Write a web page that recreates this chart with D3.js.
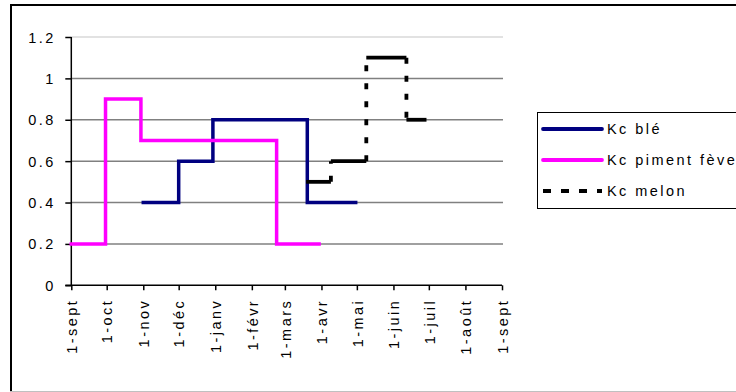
<!DOCTYPE html>
<html>
<head>
<meta charset="utf-8">
<script src="https://cdn.jsdelivr.net/npm/d3@7"></script>
<style>
  html, body { margin: 0; padding: 0; background: #fff; }
  svg text { font-family: "Liberation Sans", Arial, sans-serif; fill: #000; }
</style>
</head>
<body>
<svg id="chart" width="736" height="392"></svg>
<script>
// ---- data ----
const monthLabels = ["1-sept","1-oct","1-nov","1-déc","1-janv","1-févr","1-mars","1-avr","1-mai","1-juin","1-juil","1-août","1-sept"];
const yTicks = [0, 0.2, 0.4, 0.6, 0.8, 1, 1.2];

const bleDates   = ["2010-11-01","2010-12-01","2010-12-01","2010-12-30","2010-12-30","2011-03-20","2011-03-20","2011-04-30"];
const bleValues  = [0.4, 0.4, 0.6, 0.6, 0.8, 0.8, 0.4, 0.4];

const pimentDates  = ["2010-09-01","2010-09-30","2010-09-30","2010-10-30","2010-10-30","2011-02-22","2011-02-22","2011-03-30"];
const pimentValues = [0.2, 0.2, 0.9, 0.9, 0.7, 0.7, 0.2, 0.2];

const melonDates  = ["2011-03-19","2011-04-09","2011-04-09","2011-05-09","2011-05-09","2011-06-12","2011-06-12","2011-06-29"];
const melonValues = [0.5, 0.5, 0.6, 0.6, 1.1, 1.1, 0.8, 0.8];

const seriesNames = ["Kc blé", "Kc piment fève", "Kc melon"];
// ---------------

const parse = d3.timeParse("%Y-%m-%d");
const mk = (ds, vs) => ds.map((d, i) => ({ date: parse(d), value: vs[i] }));
const series = [
  { name: seriesNames[0], color: "#000080", dashed: false, pts: mk(bleDates, bleValues) },
  { name: seriesNames[1], color: "#FF00FF", dashed: false, pts: mk(pimentDates, pimentValues) },
  { name: seriesNames[2], color: "#000000", dashed: true,  pts: mk(melonDates, melonValues) }
];

const svg = d3.select("#chart");
const x0 = parse("2010-09-01"), x1 = parse("2011-09-01");
const x = d3.scaleTime().domain([x0, x1]).range([71.3, 502]);
const y = d3.scaleLinear().domain([0, 1.2]).range([285.3, 37]);

const FONT = 14.5, LS = 2.45;

// chart border
svg.append("line").attr("x1", 10).attr("x2", 736).attr("y1", 5).attr("y2", 5).attr("stroke", "#000").attr("stroke-width", 2);
svg.append("line").attr("x1", 11).attr("x2", 11).attr("y1", 4).attr("y2", 392).attr("stroke", "#000").attr("stroke-width", 2);
svg.append("line").attr("x1", 10).attr("x2", 736).attr("y1", 391.5).attr("y2", 391.5).attr("stroke", "#c0c0c0").attr("stroke-width", 1);

// gridlines
svg.append("g").selectAll("line").data(yTicks.filter(v => v > 0)).join("line")
  .attr("x1", x(x0)).attr("x2", x(x1) + 1)
  .attr("y1", d => y(d)).attr("y2", d => y(d))
  .attr("stroke", d => d === 1.2 ? "#d8d8d8" : "#808080")
  .attr("stroke-width", 1.5);

// y axis
const yAxis = d3.axisLeft(y).tickValues(yTicks).tickSize(6).tickFormat(d => String(d));
const gy = svg.append("g").attr("transform", `translate(${x(x0)},0)`).call(yAxis);
gy.select(".domain").attr("stroke", "#000").attr("stroke-width", 1.5).attr("d", `M-0,${y(1.2)}V${y(0)}`);
gy.selectAll(".tick line").attr("stroke", "#000").attr("stroke-width", 1.5);
gy.selectAll(".tick text")
  .attr("x", -18 + LS).attr("dy", "0.35em")
  .style("font-size", FONT + "px").style("letter-spacing", LS + "px")
  .style("font-family", "'Liberation Sans', Arial, sans-serif").attr("fill", "#000");

// x axis
const monthTicks = d3.timeMonth.range(x0, d3.timeDay.offset(x1, 1));
const xAxis = d3.axisBottom(x).tickValues(monthTicks).tickSize(5).tickFormat((d, i) => monthLabels[i]);
const gx = svg.append("g").attr("transform", `translate(0,${y(0)})`).call(xAxis);
gx.select(".domain").attr("stroke", "#000").attr("stroke-width", 1.5).attr("d", `M${x(x0) - 6},0H${x(x1)}`);
gx.selectAll(".tick line").attr("stroke", "#000").attr("stroke-width", 1.5);
gx.selectAll(".tick text")
  .attr("transform", "rotate(-90)")
  .attr("text-anchor", "end")
  .attr("x", -16 + LS).attr("y", 0).attr("dy", "0.36em")
  .style("font-size", FONT + "px").style("letter-spacing", LS + "px")
  .style("font-family", "'Liberation Sans', Arial, sans-serif").attr("fill", "#000");

// series
const line = d3.line().x(d => x(d.date)).y(d => y(d.value));
series.forEach(s => {
  if (!s.dashed) {
    svg.append("path").datum(s.pts).attr("d", line)
      .attr("fill", "none").attr("stroke", s.color).attr("stroke-width", 3.5)
      .attr("stroke-linejoin", "miter").attr("stroke-linecap", "square");
  } else {
    const segs = d3.pairs(s.pts);
    svg.append("g").selectAll("path").data(segs).join("path")
      .attr("d", d => line(d))
      .attr("fill", "none").attr("stroke", s.color).attr("stroke-width", 3.8)
      .attr("stroke-dasharray", d => (+d[0].date === +d[1].date) ? "6,12" : null)
      .attr("stroke-linecap", "butt");
  }
});

// legend
const lg = svg.append("g");
lg.append("rect").attr("x", 537.5).attr("y", 112.5).attr("width", 240).attr("height", 96)
  .attr("fill", "#fff").attr("stroke", "#000").attr("stroke-width", 1);
const rowY = [129, 160, 191];
series.forEach((s, i) => {
  lg.append("line").attr("x1", 543).attr("x2", 602).attr("y1", rowY[i]).attr("y2", rowY[i])
    .attr("stroke", s.color).attr("stroke-width", 3.8)
    .attr("stroke-linecap", s.dashed ? "butt" : "round")
    .attr("stroke-dasharray", s.dashed ? "8,10" : null);
  lg.append("text").attr("x", 607).attr("y", rowY[i]).attr("dy", "0.35em")
    .style("font-size", FONT + "px").style("letter-spacing", LS + "px")
    .text(s.name);
});
</script>
</body>
</html>
